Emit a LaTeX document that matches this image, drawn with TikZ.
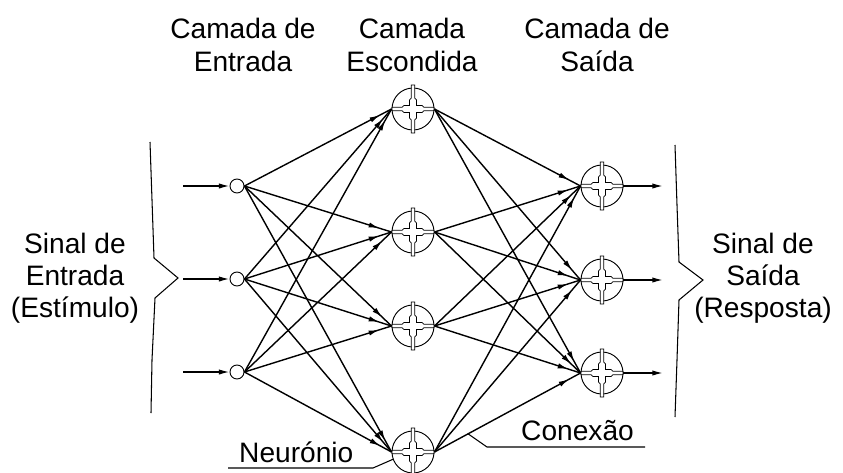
\documentclass[tikz,border=0pt]{standalone}
\usepackage{fontspec}
\setmainfont{Liberation Sans}
\usetikzlibrary{arrows.meta,positioning,calc,decorations.markings}

\begin{document}
\begin{tikzpicture}[
  x=0.03cm, y=-0.03cm,
  every node/.style={font=\fontsize{24}{27.5}\selectfont},
  entrada/.style={circle, draw, line width=0.8pt, minimum size=0.42cm, inner sep=0pt},
  neuro/.style={circle, draw, line width=0.8pt, minimum size=1.26cm, inner sep=0pt},
  seta/.style={line width=1.2pt, -{Latex[length=9pt,width=4.5pt]}},
  lig/.style={line width=1.2pt, postaction={decorate},
    decoration={markings, mark=at position -11pt with {\arrow{Latex[length=9pt,width=4.5pt]}}}},
  chave/.style={line width=0.9pt},
  fino/.style={line width=0.9pt},
  pics/cruz/.style={code={
    \draw[line width=0.6pt, fill=white]
      (1.7,24) -- (1.7,11) -- (3.5,9) -- (3.5,3.5) -- (9,3.5) -- (11,1.7) -- (21,1.7)
      -- (21,-1.7) -- (11,-1.7) -- (9,-3.5) -- (3.5,-3.5) -- (3.5,-9) -- (1.7,-11) -- (1.7,-24)
      -- (-1.7,-24) -- (-1.7,-11) -- (-3.5,-9) -- (-3.5,-3.5) -- (-9,-3.5) -- (-11,-1.7) -- (-21,-1.7)
      -- (-21,1.7) -- (-11,1.7) -- (-9,3.5) -- (-3.5,3.5) -- (-3.5,9) -- (-1.7,11) -- (-1.7,24) -- cycle;
  }}
]
\useasboundingbox (0,0) rectangle (843,472);

% camadas
\node[entrada] (i1) at (237,186) {};
\node[entrada] (i2) at (237,279) {};
\node[entrada] (i3) at (237,372) {};

\node[neuro] (h1) at (413,109) {};
\node[neuro] (h2) at (413,232) {};
\node[neuro] (h3) at (413,326) {};
\node[neuro] (h4) at (413,452) {};

\node[neuro] (o1) at (602,186) {};
\node[neuro] (o2) at (602,280) {};
\node[neuro] (o3) at (602,373) {};

\foreach \n in {h1,h2,h3,h4,o1,o2,o3}
  \pic at (\n) {cruz};

% conexoes
\foreach \a in {i1,i2,i3}
  \foreach \b in {h1,h2,h3,h4}
    \draw[lig] (\a.east) -- (\b.west);
\foreach \a in {h1,h2,h3,h4}
  \foreach \b in {o1,o2,o3}
    \draw[lig] (\a.east) -- (\b.west);

% entradas e saidas
\coordinate (e1) at (183,186);
\coordinate (e2) at (183,279);
\coordinate (e3) at (183,372);
\draw[seta] (e1) -- (i1);
\draw[seta] (e2) -- (i2);
\draw[seta] (e3) -- (i3);

\coordinate (s1) at (663,186);
\coordinate (s2) at (663,280);
\coordinate (s3) at (663,373);
\draw[seta] (o1.east) -- (s1);
\draw[seta] (o2.east) -- (s2);
\draw[seta] (o3.east) -- (s3);

% chaves
\draw[chave] (150,142) -- (152,200) -- (154,258) -- (178,278) -- (155,298) -- (152,360) -- (151,413);
\draw[chave] (675,145) -- (677,205) -- (679,262) -- (703,280) -- (679,300) -- (677,360) -- (675,417);

% titulos
\node[align=center, inner sep=0pt] (tin)  at (243,45) {Camada de\\Entrada};
\node[align=center, inner sep=0pt] (thid) at (412,45) {Camada\\Escondida};
\node[align=center, inner sep=0pt] (tout) at (597,45) {Camada de\\Sa\'ida};

\node[align=center, inner sep=0pt] (sin)  at (75,278)  {Sinal de\\Entrada\\(Est\'imulo)};
\node[align=center, inner sep=0pt] (sout) at (763,278) {Sinal de\\Sa\'ida\\(Resposta)};

% legendas
\node[anchor=base west, inner sep=0pt] (neur) at (239,462) {Neur\'onio};
\coordinate (n1) at (228,468);
\coordinate (n2) at (373,468);
\draw[fino] (n1) -- (n2) -- (h4.200);

\node[anchor=base west, inner sep=0pt] (con) at (521,440) {Conex\~ao};
\coordinate (c0) at ($(h4.east)!0.23!(o3.west)$);
\coordinate (c1) at (487,447);
\coordinate (c2) at (645,447);
\draw[fino] (c0) -- (c1) -- (c2);

\end{tikzpicture}
\end{document}
